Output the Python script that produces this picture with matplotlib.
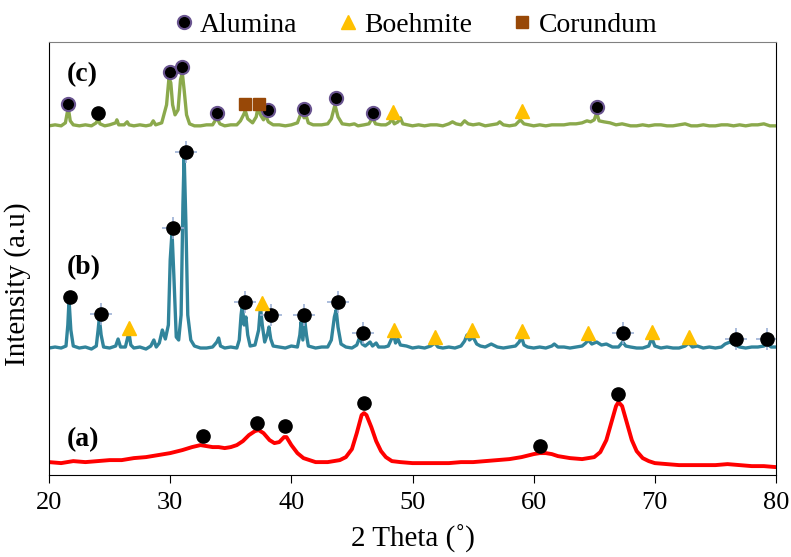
import matplotlib
matplotlib.use('Agg')
import matplotlib.pyplot as plt
from matplotlib.lines import Line2D

plt.rcParams['font.family'] = ['Liberation Serif', 'DejaVu Serif']

# XRD patterns (2 theta, intensity a.u.)
a_x = [20, 21, 22, 23, 24, 25, 26, 27, 28, 29, 30, 31, 31.8, 32.5, 33.0, 33.5, 34, 34.5,
       35, 35.5, 36, 36.5, 37, 37.3, 37.7, 38.2, 38.6, 39.0, 39.4, 39.6, 40.0, 40.5, 41.0,
       41.5, 42, 42.5, 43, 43.5, 44, 44.5, 45, 45.4, 45.8, 46.0, 46.2, 46.6, 47.0, 47.4,
       47.8, 48.3, 49, 50, 51, 52, 53, 54, 55, 56, 57, 58, 59, 60, 60.5, 61, 61.5, 62, 63,
       64, 65, 65.5, 66, 66.4, 66.8, 67.0, 67.3, 67.7, 68.1, 68.5, 69, 69.5, 70, 71, 72,
       73, 74, 75, 76, 77, 78, 79, 80]
a_y = [13, 12, 14, 13, 14, 15, 15, 17, 18, 20, 22, 25, 28, 30, 29, 28, 28, 27,
       28, 30, 34, 40, 44, 45, 42, 35, 32, 33, 38, 38, 30, 22, 17,
       15, 13, 13, 13, 14, 15, 18, 26, 42, 60, 62, 60, 48, 34, 24,
       18, 14, 13, 12, 12, 12, 12, 13, 13, 14, 15, 16, 18, 21, 22, 22, 21, 19, 17,
       16, 18, 23, 35, 52, 69, 73, 69, 52, 35, 24, 17, 14, 12, 11, 10,
       10, 10, 10, 11, 10, 9, 9, 8]

b_x = [20.0, 20.5, 21.0, 21.4, 21.55, 21.65, 21.8, 22.0, 22.5, 23.0, 23.5, 23.9, 24.05,
       24.15, 24.3, 24.5, 25.0, 25.5, 25.7, 25.9, 26.3, 26.5, 26.6, 26.75, 27.0, 27.5,
       28.0, 28.4, 28.65, 28.85, 29.1, 29.35, 29.6, 29.85, 30.0, 30.15, 30.3, 30.5, 30.7,
       30.9, 31.05, 31.15, 31.3, 31.45, 31.7, 32.0, 32.5, 33.0, 33.5, 33.85, 34.0, 34.15,
       34.5, 35.0, 35.5, 35.7, 35.85, 35.95, 36.1, 36.25, 36.4, 36.6, 37.0, 37.3, 37.45,
       37.6, 37.8, 38.05, 38.15, 38.3, 38.5, 39.0, 39.5, 40.0, 40.5, 40.7, 40.8, 40.95,
       41.1, 41.25, 41.4, 42.0, 42.5, 43.0, 43.3, 43.55, 43.7, 43.85, 44.1, 44.5, 45.0,
       45.4, 45.65, 45.85, 46.1, 46.5, 46.7, 47.0, 47.2, 47.7, 48.0, 48.3, 48.45, 48.6,
       48.8, 49.0, 49.5, 50.0, 50.5, 51.0, 51.5, 51.85, 52.1, 52.5, 53.0, 53.5, 54.0,
       54.3, 54.5, 54.7, 55.0, 55.3, 55.6, 56.0, 56.5, 57.0, 57.5, 58.0, 58.5, 58.8,
       59.0, 59.2, 59.5, 60.0, 60.5, 61.0, 61.5, 61.7, 62.0, 62.5, 63.0, 63.5, 64.0,
       64.3, 64.5, 64.8, 65.2, 65.6, 66.0, 66.5, 67.0, 67.35, 67.6, 68.0, 68.5, 69.0,
       69.5, 69.75, 70.0, 70.5, 71.0, 71.5, 72.0, 72.5, 72.8, 73.1, 73.5, 74.0, 74.5,
       75.0, 75.5, 75.8, 76.2, 76.6, 77.0, 77.5, 78.0, 78.5, 79.0, 79.3, 79.6, 80.0]
b_y = [127, 128, 127, 129, 150, 175, 145, 129, 127, 128, 126, 129, 145,
       157, 140, 128, 127, 129, 136, 128, 128, 138, 142, 130, 127, 128,
       126, 129, 135, 128, 132, 145, 136, 150, 215, 243, 200, 138, 135,
       160, 270, 320, 250, 160, 135, 129, 127, 127, 128, 133, 137, 129,
       127, 128, 127, 135, 160, 170, 150, 158, 140, 129, 130, 145, 168,
       150, 133, 142, 148, 136, 129, 128, 127, 129, 128, 140, 153, 135,
       155, 140, 129, 127, 128, 128, 135, 158, 165, 148, 131, 128, 127,
       130, 138, 131, 129, 133, 129, 132, 128, 128, 129, 137, 140, 132,
       136, 130, 129, 127, 128, 127, 129, 132, 128, 127, 128, 127, 129,
       134, 140, 135, 138, 131, 129, 128, 131, 128, 127, 128, 129, 133,
       138, 130, 128, 127, 128, 127, 129, 131, 128, 128, 127, 128, 129,
       132, 135, 131, 133, 130, 131, 128, 128, 133, 129, 128, 127, 127,
       129, 137, 129, 127, 128, 127, 127, 129, 132, 128, 129, 127, 128,
       127, 128, 131, 133, 130, 128, 127, 128, 128, 129, 131, 128, 128]

c_x = [20, 20.5, 21.0, 21.35, 21.5, 21.6, 21.75, 22.0, 22.5, 23.0, 23.5, 23.9, 24.05,
       24.2, 24.6, 25.0, 25.5, 25.6, 25.75, 26.2, 26.45, 26.6, 27.0, 27.5, 28.0, 28.4,
       28.6, 28.8, 29.3, 29.7, 29.9, 30.05, 30.2, 30.4, 30.65, 30.85, 31.0, 31.15, 31.35,
       31.6, 32.0, 32.5, 33.0, 33.5, 33.85, 34.1, 34.5, 35.0, 35.5, 35.8, 36.05, 36.2,
       36.4, 36.8, 37.1, 37.25, 37.45, 37.7, 37.85, 38.1, 38.5, 39.0, 39.5, 40.0, 40.5,
       40.75, 40.9, 41.05, 41.2, 41.4, 41.8, 42.5, 43.0, 43.3, 43.6, 43.85, 44.2, 44.8,
       45.2, 45.5, 46.0, 46.4, 46.7, 46.95, 47.4, 47.8, 48.1, 48.3, 48.5, 48.8, 49.0,
       49.2, 49.6, 50.0, 50.5, 51.0, 51.5, 52.0, 52.5, 53.0, 53.3, 53.6, 54.0, 54.3,
       54.6, 55.0, 55.5, 56.0, 56.5, 57.0, 57.2, 57.5, 58.0, 58.5, 58.9, 59.2, 59.6,
       60.0, 60.5, 61.0, 61.5, 62.0, 62.5, 63.0, 63.5, 64.0, 64.4, 64.7, 65.0, 65.2,
       65.4, 65.8, 66.3, 66.8, 67.3, 68.0, 68.5, 69.0, 69.5, 70.0, 70.5, 71.0, 71.5,
       72.0, 72.5, 73.0, 73.5, 74.0, 74.5, 75.0, 75.5, 76.0, 76.5, 77.0, 77.5, 78.0,
       78.5, 79.0, 79.5, 80.0]
c_y = [349, 350, 349, 352, 362, 366, 354, 350, 349, 350, 349, 352, 357,
       351, 349, 350, 352, 355, 350, 350, 353, 350, 349, 350, 349, 350,
       354, 350, 352, 370, 397, 392, 370, 360, 365, 395, 402, 385, 360,
       351, 349, 349, 350, 350, 357, 351, 349, 350, 350, 354, 360, 364,
       356, 352, 358, 368, 360, 355, 360, 353, 350, 350, 349, 350, 352,
       360, 362, 357, 360, 352, 350, 350, 351, 356, 370, 358, 351, 350,
       351, 349, 350, 351, 357, 351, 350, 350, 352, 356, 351, 353, 357,
       351, 350, 349, 350, 349, 350, 350, 349, 351, 353, 351, 350, 354,
       351, 350, 351, 349, 350, 351, 353, 350, 349, 350, 355, 351, 350,
       349, 350, 349, 350, 350, 350, 351, 351, 352, 354, 353, 355, 362,
       354, 353, 352, 350, 351, 349, 349, 350, 349, 350, 350, 349, 349,
       350, 351, 349, 349, 350, 349, 349, 350, 350, 349, 350, 349, 350,
       350, 351, 349, 349]

# phase markers
a_alu_x = [32.7, 37.2, 39.5, 46.0, 60.5, 67.0]
a_alu_y = [39, 52, 49, 72, 29, 81]

b_alu_x = [21.7, 24.3, 30.25, 31.3, 36.2, 38.3, 41.05, 43.85, 45.9, 67.35, 76.7, 79.3]
b_alu_y = [178, 161, 247, 323, 173, 160, 160, 173, 142, 142, 136, 136]
b_boe_x = [26.6, 37.6, 48.45, 51.85, 54.9, 59.0, 64.5, 69.8, 72.8]
b_boe_y = [147, 172, 145, 138, 145, 144, 142, 143, 138]

c_alu_x = [21.55, 30.0, 31.0, 33.85, 38.1, 41.05, 43.7, 46.75, 65.2]
c_alu_y = [371, 403, 408, 362, 365, 366, 377, 362, 368]
c_plain_x = [24.05]
c_plain_y = [362]
c_boe_x = [48.4, 59.0]
c_boe_y = [363, 364]
c_cor_x = [36.2, 37.3]
c_cor_y = [371, 371]

red = '#FF0000'
teal = '#31849B'
green = '#8BA94C'
orange = '#FFC000'
brown = '#984807'
purple = '#6A5590'

fig = plt.figure(figsize=(7.91, 5.57), dpi=100)
ax = fig.add_axes([0.062, 0.147, 0.919, 0.778])

ax.plot(a_x, a_y, color=red, lw=2.8)
ax.plot(b_x, b_y, color=teal, lw=2.4)
ax.plot(c_x, c_y, color=green, lw=2.4)

ax.plot(a_alu_x, a_alu_y, 'o', color='black', ms=9.5, ls='none')

ax.plot(b_alu_x[1:], b_alu_y[1:], '+', color='#9DB1D6', ms=16, mew=1.2, ls='none')
ax.plot(b_alu_x, b_alu_y, 'o', color='black', ms=9.5, ls='none')
ax.plot(b_boe_x, b_boe_y, '^', color=orange, ms=9.5, ls='none')

ax.plot(c_alu_x, c_alu_y, 'o', mfc='black', mec=purple, mew=1.5, ms=9.5, ls='none')
ax.plot(c_plain_x, c_plain_y, 'o', color='black', ms=9.5, ls='none')
ax.plot(c_boe_x, c_boe_y, '^', color=orange, ms=9.5, ls='none')
ax.plot(c_cor_x, c_cor_y, 's', color=brown, ms=8, ls='none')

ax.text(21.5, 35, '(a)', fontsize=20, fontweight='bold', va='center')
ax.text(21.5, 207, '(b)', fontsize=20, fontweight='bold', va='center')
ax.text(21.5, 400, '(c)', fontsize=20, fontweight='bold', va='center')

ax.set_xlim(20, 80)
ax.set_ylim(0, 433)
ax.set_xticks(range(20, 81, 10))
ax.set_yticks([])
ax.tick_params(axis='x', direction='out', length=6, labelsize=19, pad=6)
ax.set_xlabel('2 Theta (˚)', fontsize=21, labelpad=8)
ax.set_ylabel('Intensity (a.u)', fontsize=21)
ax.yaxis.set_label_coords(-0.025, 0.44)
ax.spines['top'].set_color('#808080')

handles = [
    Line2D([], [], marker='o', ls='none', mfc='black', mec=purple, mew=1.5, ms=9.5),
    Line2D([], [], marker='^', ls='none', color=orange, ms=9.5),
    Line2D([], [], marker='s', ls='none', color=brown, ms=8),
]
fig.legend(handles, ['Alumina', 'Boehmite', 'Corundum'], loc='upper center',
           bbox_to_anchor=(0.523, 1.022), ncol=3, frameon=False, fontsize=20,
           handletextpad=0.1, columnspacing=1.3, handlelength=1.0)

fig.savefig('out.png', dpi=100)
